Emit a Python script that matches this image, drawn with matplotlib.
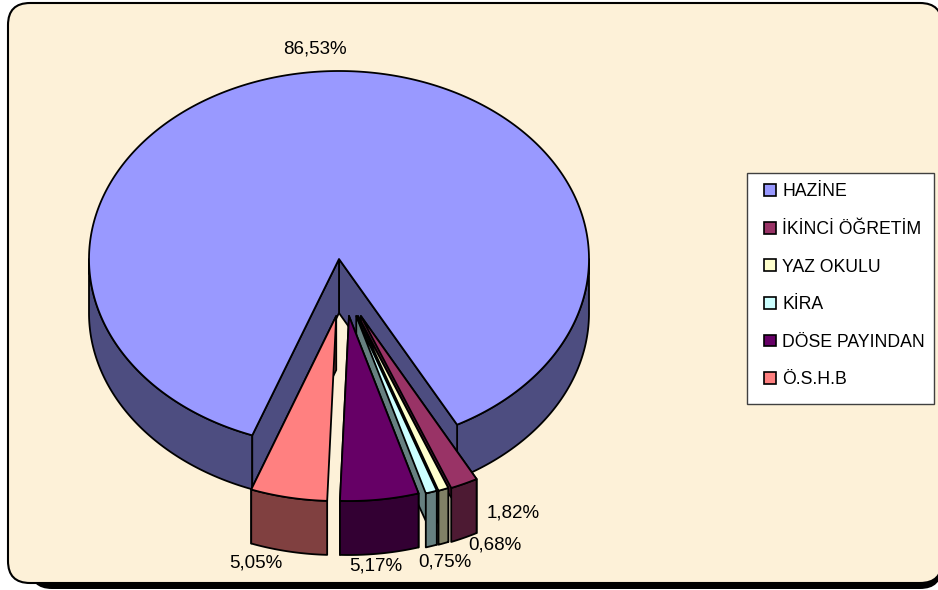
import numpy as np
import matplotlib
matplotlib.use('Agg')
import matplotlib.pyplot as plt
from matplotlib.patches import Polygon, Patch, FancyBboxPatch, Rectangle

plt.rcParams['font.family'] = ['Liberation Sans', 'DejaVu Sans']

# data
labels = ['HAZİNE', 'İKİNCİ ÖĞRETİM', 'YAZ OKULU', 'KİRA', 'DÖSE PAYINDAN', 'Ö.S.H.B']
values = [86.53, 1.82, 0.68, 0.75, 5.17, 5.05]
top_colors = ['#9999FF', '#993366', '#FFFFCC', '#CCFFFF', '#660066', '#FF8080']
side_colors = ['#4D4D80', '#4D1A33', '#808066', '#668080', '#330033', '#804040']
label_pos = [(315, 49), (513, 513), (495, 545), (445, 562), (376, 566), (256, 563)]

# pie layout, in pixels of the picture
cx, cy = 339, 259
rx, ry = 250, 188
rx2, ry2 = 245, 185
depth = 54
start = 200.3  # clockwise from north, where HAZİNE begins

fig = plt.figure(figsize=(9.38, 5.9), dpi=100, facecolor='white')
ax = fig.add_axes([0, 0, 1, 1])
ax.set_xlim(0, 938)
ax.set_ylim(590, 0)
ax.axis('off')

# background panel + shadow, right side runs off the picture
ax.add_patch(FancyBboxPatch((30, 27), 912, 562, boxstyle='round,pad=0,rounding_size=22',
                            fc='black', ec='black', lw=0))
ax.add_patch(FancyBboxPatch((8, 3), 934, 580, boxstyle='round,pad=0,rounding_size=22',
                            fc='#FDF1D8', ec='black', lw=1.5))


def arc(x0, y0, a, b, a1, a2, n=120):
    t = np.radians(np.linspace(a1, a2, n))
    return np.column_stack([x0 + a * np.sin(t), y0 - b * np.cos(t)])


def poly(pts, color):
    ax.add_patch(Polygon(pts, closed=True, fc=color, ec='black', lw=1.3, joinstyle='round'))


def drop(pts):
    return pts + np.array([0, depth])


def rim_wall(x0, y0, a, b, a1, a2, color):
    top = arc(x0, y0, a, b, a1, a2)
    poly(np.vstack([top, drop(top)[::-1]]), color)


def cut_wall(x0, y0, a, b, ang, color):
    edge = np.vstack([[x0, y0], arc(x0, y0, a, b, ang, ang, 1)])
    poly(np.vstack([edge, drop(edge)[::-1]]), color)


angles = start + np.cumsum([0] + values) * 3.6
a1, a2 = angles[0], angles[1]

# HAZINE: outer side, inner cut walls, then top
rim_wall(cx, cy, rx, ry, 360 + 90, a2, side_colors[0])
rim_wall(cx, cy, rx, ry, start, 270, side_colors[0])
cut_wall(cx, cy, rx, ry, a2, side_colors[0])
cut_wall(cx, cy, rx, ry, a1, side_colors[0])
top = arc(cx, cy, rx, ry, a1, a2, 400)
poly(np.vstack([[cx, cy], top]), top_colors[0])

# the pulled out slices, far ones first
for i in [1, 2, 3, 5, 4]:
    s, e = angles[i] - 360, angles[i + 1] - 360
    mid = (s + e) / 2
    x0 = cx + 5 + 40 * np.sin(np.radians(mid))
    y0 = cy + 57
    if s < 180:
        cut_wall(x0, y0, rx2, ry2, s, side_colors[i])
    if e > 180:
        cut_wall(x0, y0, rx2, ry2, e, side_colors[i])
    rim_wall(x0, y0, rx2, ry2, s, e, side_colors[i])
    poly(np.vstack([[x0, y0], arc(x0, y0, rx2, ry2, s, e)]), top_colors[i])

# value labels
for v, (x, y) in zip(values, label_pos):
    ax.text(x, y, f'{v:.2f}%'.replace('.', ','), ha='center', va='center',
            fontsize=13.5, color='black')

# legend, frame is separate so the box size can follow the picture
ax.add_patch(Rectangle((747, 173), 187, 231, fc='white', ec='#404040', lw=1.0, zorder=4))
handles = [Patch(fc=c, ec='black', lw=1.2) for c in top_colors]
ax.legend(handles, labels, loc='upper left', bbox_to_anchor=(754, 173),
          bbox_transform=ax.transData, frameon=False, fontsize=12.7,
          handlelength=0.65, handleheight=0.65, handletextpad=0.37,
          labelspacing=1.17, borderaxespad=0, borderpad=0.58)

fig.savefig('out.png', dpi=100)
